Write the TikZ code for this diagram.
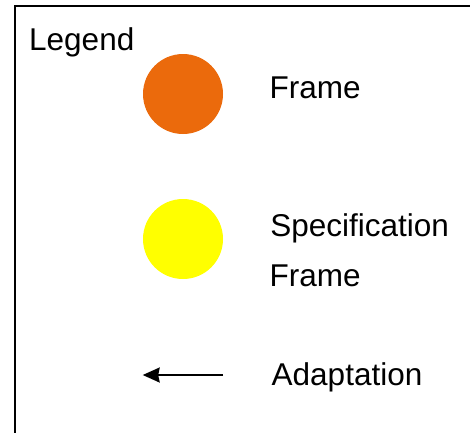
\documentclass[tikz,border=0pt]{standalone}
\usepackage{fontspec}
\setmainfont{Liberation Sans}
\usetikzlibrary{arrows.meta}
\begin{document}
\begin{tikzpicture}[x=1pt,y=-1pt,
  label/.style={anchor=base west,inner sep=0pt,font=\fontsize{31.5}{36}\selectfont},
  swatch/.style={circle,minimum size=80pt,inner sep=0pt,draw=none},
  legendarrow/.style={line width=1.8pt,-{Stealth[length=17pt,width=15pt,inset=1.5pt]}}]
  \definecolor{frameorange}{HTML}{EB6A0C}
  \definecolor{specyellow}{HTML}{FFFF00}
  \useasboundingbox (0,0) rectangle (470,432);
  \clip (0,0) rectangle (470,432);
  % legend frame, open to the right and bottom
  \draw[line width=2pt] (14.7,480) -- (14.7,6.2) -- (520,6.2);
  \node[label] (title) at (29,50) {Legend};
  % frame
  \node[swatch,fill=frameorange] (framedot) at (183,94) {};
  \node[label] (frametxt) at (269.5,98) {Frame};
  % specification frame
  \node[swatch,fill=specyellow] (specdot) at (183,239) {};
  \node[label] (spectxt1) at (270.2,236.7) {Specification};
  \node[label] (spectxt2) at (269.5,286) {Frame};
  % adaptation
  \coordinate (arrfrom) at (223,375);
  \coordinate (arrto) at (142.7,375);
  \draw[legendarrow] (arrfrom) -- (arrto);
  \node[label] (adapttxt) at (271.5,385.7) {Adaptation};
\end{tikzpicture}
\end{document}
